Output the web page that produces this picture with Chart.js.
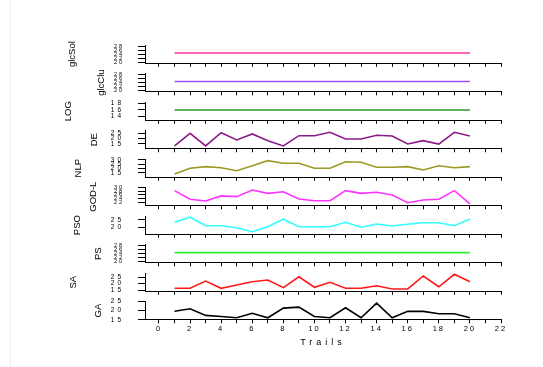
<!DOCTYPE html>
<html><head><meta charset="utf-8">
<script src="https://cdn.jsdelivr.net/npm/chart.js@4"></script>
<style>
html,body{margin:0;padding:0;background:#fff;}
#wrap{position:relative;width:543px;height:367px;overflow:hidden;background:#fff;}
#wrap canvas{position:absolute;left:0;top:0;}
#frame{position:absolute;left:10px;top:0;width:0;height:367px;border-left:1px solid #f0f0f0;}
</style></head><body><div id="wrap"><div id="frame"></div></div>
<script>
// ---- data ----
const trials = [1,2,3,4,5,6,7,8,9,10,11,12,13,14,15,16,17,18,19,20];
const xTickValues = [0,1,2,3,4,5,6,7,8,9,10,11,12,13,14,15,16,17,18,19,20,21,22];

const glcSol = [24.6,24.6,24.6,24.6,24.6,24.6,24.6,24.6,24.6,24.6,24.6,24.6,24.6,24.6,24.6,24.6,24.6,24.6,24.6,24.6];
const glcClu = [24.6,24.6,24.6,24.6,24.6,24.6,24.6,24.6,24.6,24.6,24.6,24.6,24.6,24.6,24.6,24.6,24.6,24.6,24.6,24.6];
const LOG    = [16,16,16,16,16,16,16,16,16,16,16,16,16,16,16,16,16,16,16,16];
const DE     = [12.8,25.2,12.8,25.8,18.7,24.6,18.0,12.8,22.9,22.9,26.2,19.6,19.6,23.3,22.6,14.7,18.0,14.7,26.2,22.6];
const NLP    = [13.8,20.3,22.2,21.0,17.6,23.3,29.1,26.1,26.1,20.3,20.3,27.9,27.2,21.5,21.5,22.2,18.4,23.3,21.0,22.2];
const GODL   = [28.3,23.6,22.6,25.4,25.0,28.6,26.8,27.7,23.7,22.8,22.8,28.3,26.8,27.4,25.9,21.7,23.2,23.6,28.3,21.0];
const PSO    = [23.5,26.8,21.3,21.3,20.0,17.4,20.6,25.5,20.6,20.6,20.6,23.5,20.3,22.4,21.1,22.2,23.2,23.2,21.3,25.6];
const PS     = [24.5,24.5,24.5,24.5,24.5,24.5,24.5,24.5,24.5,24.5,24.5,24.5,24.5,24.5,24.5,24.5,24.5,24.5,24.5,24.5];
const SA     = [16.3,16.3,21.9,16.3,18.8,21.4,22.7,16.8,25.2,17.1,20.9,16.3,16.3,18.3,15.8,15.8,25.8,17.5,27.1,21.4];
const GA     = [19.7,21.0,17.4,16.8,16.1,18.6,16.1,21.4,21.9,16.8,16.1,21.6,16.1,24.1,16.1,19.6,19.6,18.3,18.3,16.1];

const flatTicks = [20,22,24,26,28];
const logTicks  = [14,16,18];
const deTicks   = [15,20,25];
const nlpTicks  = [15,20,25,30];
const godTicks  = [22,24,26,28,30];
const psoTicks  = [20,25];
const saTicks   = [15,20,25];
const gaTicks   = [15,20,25];

const panelNames = ['glcSol','glcClu','LOG','DE','NLP','GOD-L','PSO','PS','SA','GA'];
const seriesList = [glcSol,glcClu,LOG,DE,NLP,GODL,PSO,PS,SA,GA];
const tickLists  = [flatTicks,flatTicks,logTicks,deTicks,nlpTicks,godTicks,psoTicks,flatTicks,saTicks,gaTicks];

// ---- styling ----
const colors = ['#ff3399','#a050ff','#2a9a2a','#8b1a89','#9a9a22','#ff33ff','#33ffff','#33ee33','#ff1a1a','#000000'];
const ranges = [[19.5,28.5],[19.5,28.5],[12.9,18.4],[10,28],[10,31],[20,30],[15.7,27.6],[19.5,28.5],[14,28.1],[15,25]];
const titleX = [72,101,68,94,78,93,77,98,73,98];
const tickFont = [5.5,5.5,6.5,6.5,6.5,5.5,6.5,5.5,6.5,6.5];
const FONT = "'Liberation Sans', Arial, Helvetica, sans-serif";

function patchSpacing(obj, fn, sp){
  const orig = obj[fn];
  obj[fn] = function(...a){ const c = this.ctx; c.save(); c.letterSpacing = sp; orig.apply(this, a); c.restore(); };
}
const spacingPlugin = {
  id:'spacing',
  afterLayout(chart){
    if (chart.$spaced) return;
    chart.$spaced = true;
    patchSpacing(chart.scales.x,'drawLabels','2px');
    patchSpacing(chart.scales.x,'drawTitle','4px');
    patchSpacing(chart.scales.y,'drawLabels', chart.$fs < 6 ? '2px' : '3px');
  }
};

const wrap = document.getElementById('wrap');
const PH = 18.3, PITCH = 28.5, TOP0 = 45;

panelNames.forEach((name, i) => {
  const last = i === panelNames.length - 1;
  const top = TOP0 + i * PITCH;
  const bottom = top + PH;
  const xh = last ? 367 - bottom : 6;
  const padBottom = last ? 0 : 367 - bottom - xh;
  const cv = document.createElement('canvas');
  cv.width = 543; cv.height = 367;
  wrap.appendChild(cv);
  const vals = seriesList[i];
  const ticks = tickLists[i];
  new Chart(cv, {
    type: 'line',
    data: { datasets: [{
      data: trials.map((x, k) => ({ x: x, y: vals[k] })),
      borderColor: colors[i], borderWidth: 1.6, pointRadius: 0, tension: 0, fill: false, clip: false
    }]},
    options: {
      responsive: false, animation: false, devicePixelRatio: 1, events: [],
      layout: { padding: { top: top, bottom: padBottom, left: 0, right: 42 } },
      plugins: { legend: { display: false }, tooltip: { enabled: false } },
      scales: {
        x: {
          type: 'linear', min: -0.9, max: 22,
          afterBuildTicks: s => { s.ticks = xTickValues.map(v => ({ value: v })); },
          afterFit: s => { s.height = xh; },
          grid: { drawOnChartArea: false, drawTicks: true, tickLength: 3.5, color: '#000', lineWidth: 1 },
          border: { display: true, color: '#000', width: 1 },
          ticks: { display: last, autoSkip: false, maxRotation: 0, minRotation: 0, padding: 1.5, color: '#000',
                   font: { family: FONT, size: 7.5 }, callback: v => (v % 2 === 0 ? String(v) : '') },
          title: { display: last, text: 'Trails', color: '#000', font: { family: FONT, size: 9 },
                   padding: { top: 0, bottom: 19.4 } }
        },
        y: {
          min: ranges[i][0], max: ranges[i][1],
          afterBuildTicks: s => { s.ticks = ticks.map(v => ({ value: v })); },
          afterFit: s => { s.width = 145; },
          grid: { drawOnChartArea: false, drawTicks: true, tickLength: 7, color: '#000', lineWidth: 1 },
          border: { display: true, color: '#000', width: 1 },
          ticks: { autoSkip: false, padding: 14, color: '#000', font: { family: FONT, size: tickFont[i] },
                   callback: v => String(v) },
          title: { display: true, text: name, color: '#000', font: { family: FONT, size: 9.5 },
                   padding: { top: titleX[i] - 5.7, bottom: 0 } }
        }
      }
    },
    plugins: [{ id:'fs', beforeInit(c){ c.$fs = tickFont[i]; } }, spacingPlugin]
  });
});
</script></body></html>
